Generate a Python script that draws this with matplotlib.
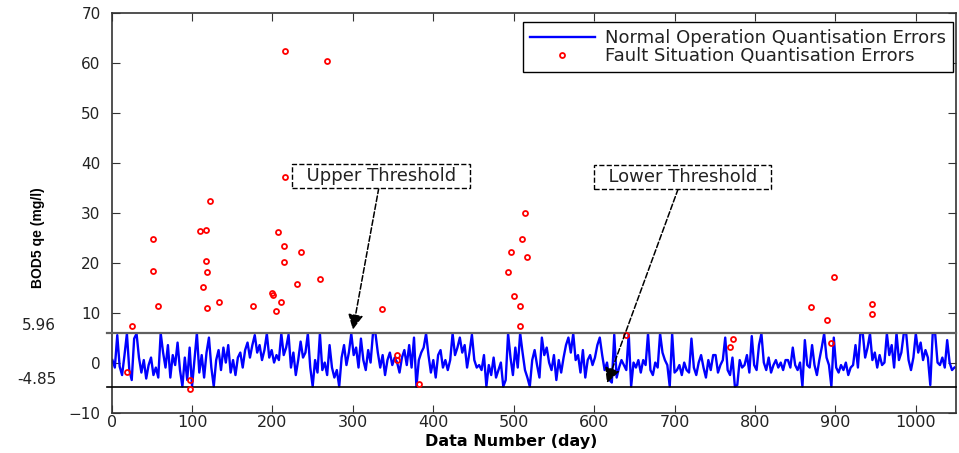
"""BOD5 quantisation errors: normal operation vs fault situation."""
import matplotlib
matplotlib.use("Agg")
import matplotlib.pyplot as plt
import numpy as np

plt.rcParams["font.family"] = ["DejaVu Sans"]

# normal operation quantisation errors, one reading every 3 days
NORMAL_QE = [
    0.5, -1.0, 5.5, -0.8, -2.5, 1.5, 5.8, -1.5, -3.5, 4.8,
    5.8, 1.0, -2.0, 0.5, -3.2, -0.5, 1.0, -2.5, -1.0, -3.0,
    5.9, 2.0, -1.0, 3.5, -3.0, 1.5, -0.5, 4.0, -1.5, -4.8,
    1.0, -3.5, 3.0, -4.8, 0.5, 5.9, -2.0, 1.5, -3.0, 2.0,
    5.0, -1.0, -4.8, 0.5, 2.5, -1.5, 3.0, 0.0, 3.5, -2.0,
    0.5, -2.5, 1.0, 2.0, -1.0, 2.5, 4.0, 1.0, 3.5, 5.5,
    2.0, 3.5, 0.5, 2.5, 5.8, 1.0, 2.5, 0.0, 1.5, 0.5,
    5.8, 1.5, 3.0, 5.6, -1.0, 2.0, -2.5, 0.5, 4.2, 1.0,
    2.0, 5.8, -1.0, -4.8, 0.5, -2.0, 5.8, -1.5, 0.0, -2.5,
    3.5, -1.0, -3.0, -1.5, -4.8, 1.0, 3.5, -0.5, 2.0, 5.8,
    1.5, 3.0, -1.0, 4.8, 0.5, -1.5, 2.5, 0.0, 5.9, 5.9,
    2.0, -1.0, 1.5, -2.5, 0.5, 2.0, -0.5, 1.0, 0.0, -2.0,
    1.0, 2.5, -0.5, 3.5, -1.0, 5.0, -4.8, 0.5, 2.0, 3.0,
    5.8, 1.5, -2.0, 0.5, -3.0, 1.5, 2.5, -1.0, 0.5, -1.5,
    0.5, 5.8, 1.5, 3.0, 5.0, 2.0, 3.5, -1.0, 2.0, 5.6,
    0.5, -1.0, -0.5, -1.5, 1.5, -4.8, -0.5, -2.5, 1.0, -3.0,
    -1.5, 0.0, -4.8, -3.5, 5.8, 1.0, -2.5, 3.0, -1.0, 5.9,
    2.0, -1.5, -3.0, -4.8, 0.5, 2.5, -0.5, -3.0, 5.0, 1.5,
    3.0, 0.0, -1.5, 1.5, -3.5, 0.5, -2.0, 1.0, 3.5, 5.0,
    2.0, 5.8, 0.5, 1.5, -2.0, 2.5, -3.0, 0.5, 1.5, -0.5,
    1.0, 3.5, 5.0, 1.5, -1.5, 0.0, -3.5, -4.0, 5.6, -3.0,
    -1.0, 0.5, -0.5, -1.5, 5.8, -4.8, 0.0, -1.0, 0.5, -2.0,
    0.5, -0.5, 5.8, -1.5, -2.5, 0.0, -1.0, 5.8, 2.0, 0.5,
    -0.5, -4.8, 5.8, -2.0, -1.5, -0.5, -2.5, 0.0, -1.5, -2.0,
    4.8, -1.0, -2.5, 0.0, 1.5, -1.0, -3.0, 0.5, -1.5, 1.5,
    1.5, -2.0, -0.5, 0.5, 5.0, -1.5, -2.5, 1.0, -4.8, -4.5,
    0.5, -1.0, -0.5, 1.5, -2.0, 5.3, -0.5, -1.5, 3.5, 5.8,
    0.0, -1.5, 1.0, -2.0, -0.5, 0.5, -1.0, 0.0, -1.5, 0.5,
    0.5, -1.0, 3.0, -0.5, -1.5, 0.0, -4.8, 4.5, -0.5, -1.0,
    3.5, -0.5, -2.5, 0.5, 3.0, 5.8, 1.0, -0.5, -4.8, 5.0,
    -1.0, -2.0, -0.5, -1.5, 0.0, -2.5, -1.0, -0.5, 3.5, -1.0,
    5.8, 5.9, 1.0, 3.0, 5.8, 0.5, 2.0, -1.0, 1.5, -0.5,
    0.0, 5.8, 1.5, 3.5, -1.0, 5.9, 0.5, 2.0, 5.8, 5.9,
    0.5, -1.5, 1.0, 5.8, 2.0, 4.0, 0.5, 2.5, 1.0, -4.5,
    5.8, 5.9, 0.0, -0.5, 1.0, -1.0, 4.5, 0.0, -1.5, -1.0,
]
NORMAL_STEP = 3

FAULT_DAY = [19, 25, 52, 52, 58, 97, 97, 110, 114, 117, 117, 118, 118, 122,
             133, 176, 199, 201, 205, 207, 211, 214, 214, 216, 216, 230, 236,
             259, 268, 336, 355, 355, 382, 493, 496, 500, 508, 508, 510, 514,
             516, 640, 769, 773, 870, 889, 894, 898, 945, 945]
FAULT_QE = [-1.9, 7.3, 24.7, 18.4, 11.4, -3.4, -5.3, 26.4, 15.1, 26.6, 20.3,
            18.2, 10.9, 32.3, 12.2, 11.4, 13.9, 13.5, 10.4, 26.2, 12.2, 23.3,
            20.2, 62.3, 37.1, 15.7, 22.1, 16.7, 60.3, 10.8, 1.6, 0.5, -4.2,
            18.2, 22.1, 13.3, 11.4, 7.3, 24.7, 29.9, 21.1, 5.5, 3.2, 4.8,
            11.2, 8.5, 4.0, 17.2, 11.8, 9.8]

UPPER_THR = 5.96
LOWER_THR = -4.85
XLIM = (0, 1050)
YLIM = (-10, 70)

days = np.arange(len(NORMAL_QE)) * NORMAL_STEP + 1

fig = plt.figure(figsize=(9.59, 4.53), dpi=100)
ax = fig.add_axes([0.1164, 0.0894, 0.8805, 0.8819])

ax.plot(days, NORMAL_QE, color="#0000ff", lw=1.7,
        label="Normal Operation Quantisation Errors", zorder=2)
ax.plot(FAULT_DAY, FAULT_QE, ls="none", marker="o", ms=3.6, mfc="none",
        mec="#ff0000", mew=1.3, label="Fault Situation Quantisation Errors",
        zorder=4)

# threshold lines poke slightly past the left spine
ax.plot([XLIM[0] - 6, XLIM[1]], [UPPER_THR] * 2, color="#606060", lw=1.6,
        clip_on=False, zorder=3)
ax.plot([XLIM[0] - 6, XLIM[1]], [LOWER_THR] * 2, color="black", lw=1.2,
        clip_on=False, zorder=3)
for thr in (UPPER_THR, LOWER_THR):
    ax.annotate(f"{thr:.2f}", xy=(0, thr), xycoords=("axes fraction", "data"),
                xytext=(-40, 5), textcoords="offset points", ha="right",
                va="center", fontsize=11, color="#222222")

ax.set_xlim(*XLIM)
ax.set_ylim(*YLIM)
ax.set_xticks(np.arange(0, 1001, 100))
ax.set_yticks(np.arange(-10, 71, 10))
ax.tick_params(direction="in", top=True, right=True, length=6,
               color="#333333", labelcolor="#222222")
ax.tick_params(axis="x", labelsize=11.5, pad=2)
ax.tick_params(axis="y", labelsize=11, pad=8)
for sp in ax.spines.values():
    sp.set_color("#333333")
    sp.set_linewidth(1.2)

ax.set_xlabel("Data Number (day)", fontsize=11.5, fontweight="bold")
ax.xaxis.set_label_coords(0.473, -0.053)
ax.set_ylabel("BOD5 qe (mg/l)", fontsize=10, fontweight="bold",
              family="Liberation Sans")
ax.yaxis.set_label_coords(-0.079, 0.438)

box = dict(boxstyle="square,pad=0.15", fc="white", ec="black", ls="--", lw=1.0)
arrow = dict(arrowstyle="-|>,head_length=0.7,head_width=0.35", ls="--",
             color="black", lw=1.1, shrinkA=0, shrinkB=0)
ax.annotate("  Upper Threshold  ", xy=(300, 6.6), xytext=(335, 37.4),
            ha="center", va="center", fontsize=13, color="#222222",
            bbox=box, arrowprops=arrow, zorder=5)
ax.annotate("  Lower Threshold  ", xy=(616, -4.1), xytext=(710, 37.2),
            ha="center", va="center", fontsize=13, color="#222222",
            bbox=box, arrowprops=arrow, zorder=5)

leg = ax.legend(loc="upper right", bbox_to_anchor=(0.9964, 0.9775),
                borderaxespad=0, fontsize=13, fancybox=False, numpoints=1,
                handlelength=3.6, handletextpad=0.55, borderpad=0.4,
                labelspacing=0.0, framealpha=1)
leg.get_frame().set_edgecolor("black")
leg.get_frame().set_linewidth(1.0)
for t in leg.get_texts():
    t.set_color("#222222")

fig.savefig("out.png", dpi=100)
plt.close(fig)
